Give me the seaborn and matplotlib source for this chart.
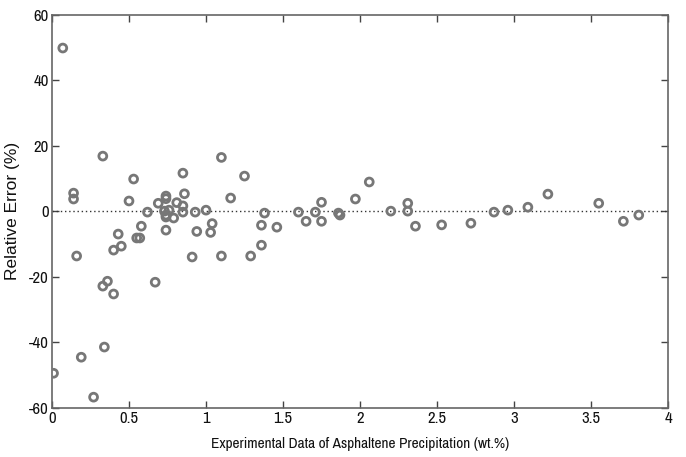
import matplotlib
matplotlib.use("Agg")
import matplotlib.pyplot as plt
import seaborn as sns
import pandas as pd
from matplotlib.ticker import FixedLocator

experimental = [0.07, 0.14, 0.14, 0.33, 0.53, 0.50, 0.62, 0.69, 0.74, 0.74,
                0.73, 0.76, 0.74, 0.74, 0.79, 0.74, 0.81, 0.85, 0.86, 0.85,
                0.85, 0.93, 1.00, 1.03, 1.04, 0.94, 1.10, 1.16, 1.25, 0.91,
                1.10, 1.29, 1.38, 1.36, 1.36, 1.46, 1.60, 1.65, 1.71, 1.75,
                1.75, 1.86, 1.87, 1.97, 2.06, 2.20, 2.31, 2.31, 2.36, 2.53,
                2.72, 2.87, 2.96, 3.09, 3.22, 3.55, 3.71, 3.81, 0.58, 0.43,
                0.55, 0.57, 0.45, 0.40, 0.16, 0.33, 0.36, 0.40, 0.34, 0.19,
                0.01, 0.27, 0.67]
rel_error = [49.8, 5.5, 3.7, 16.8, 9.8, 3.1, -0.3, 2.4, 4.6, 3.8,
             0.0, 0.3, -1.2, -1.8, -2.1, -5.8, 2.6, 11.6, 5.3, 1.6,
             -0.3, -0.3, 0.3, -6.5, -3.8, -6.2, 16.4, 4.0, 10.7, -14.0,
             -13.7, -13.7, -0.6, -4.3, -10.4, -4.9, -0.3, -3.1, -0.3, 2.7,
             -3.1, -0.6, -1.2, 3.7, 8.9, 0.0, 2.4, 0.0, -4.6, -4.2,
             -3.7, -0.3, 0.3, 1.2, 5.2, 2.4, -3.1, -1.2, -4.6, -7.0,
             -8.2, -8.2, -10.7, -11.9, -13.7, -22.9, -21.4, -25.3, -41.5, -44.6,
             -49.5, -56.8, -21.7]

x_ticks = [0, 0.5, 1, 1.5, 2, 2.5, 3, 3.5, 4]
x_tick_labels = ["0", "0.5", "1", "1.5", "2", "2.5", "3", "3.5", "4"]
y_ticks = [-60, -40, -20, 0, 20, 40, 60]
y_tick_labels = ["-60", "-40", "-20", "0", "20", "40", "60"]

df = pd.DataFrame({"x": experimental, "y": rel_error})

sns.set_style("ticks")
plt.rcParams["font.family"] = ["Archivo Narrow", "Liberation Sans", "DejaVu Sans"]
plt.rcParams["axes.unicode_minus"] = False

fig = plt.figure(figsize=(6.86, 4.57), dpi=100)
ax = fig.add_axes([0.0758, 0.108, 0.898, 0.860])

sns.scatterplot(data=df, x="x", y="y", ax=ax, marker="o", s=32,
                facecolors="none", edgecolor="#777777", linewidth=2.0,
                zorder=3)
ax.axhline(0, color="#333333", linestyle=(0, (1, 2)), linewidth=1.0, zorder=2)

ax.set_xlim(0, 4)
ax.set_ylim(-60, 60)
ax.xaxis.set_major_locator(FixedLocator(x_ticks))
ax.set_xticklabels(x_tick_labels)
ax.yaxis.set_major_locator(FixedLocator(y_ticks))
ax.set_yticklabels(y_tick_labels)
ax.tick_params(direction="in", length=5, width=1, color="#444444",
               top=True, right=True, labelsize=12, pad=2.5, labelcolor="#111111")
for sp in ax.spines.values():
    sp.set_visible(True)
    sp.set_color("#666666")
    sp.set_linewidth(1.2)

ax.set_xlabel("Experimental Data of Asphaltene Precipitation (wt.%)",
              fontsize=11, labelpad=8, color="#111111")
ax.set_ylabel("Relative Error (%)", family=["Liberation Sans", "DejaVu Sans"],
              fontsize=12.5, labelpad=6, color="#111111")

fig.savefig("out.png", dpi=100)
